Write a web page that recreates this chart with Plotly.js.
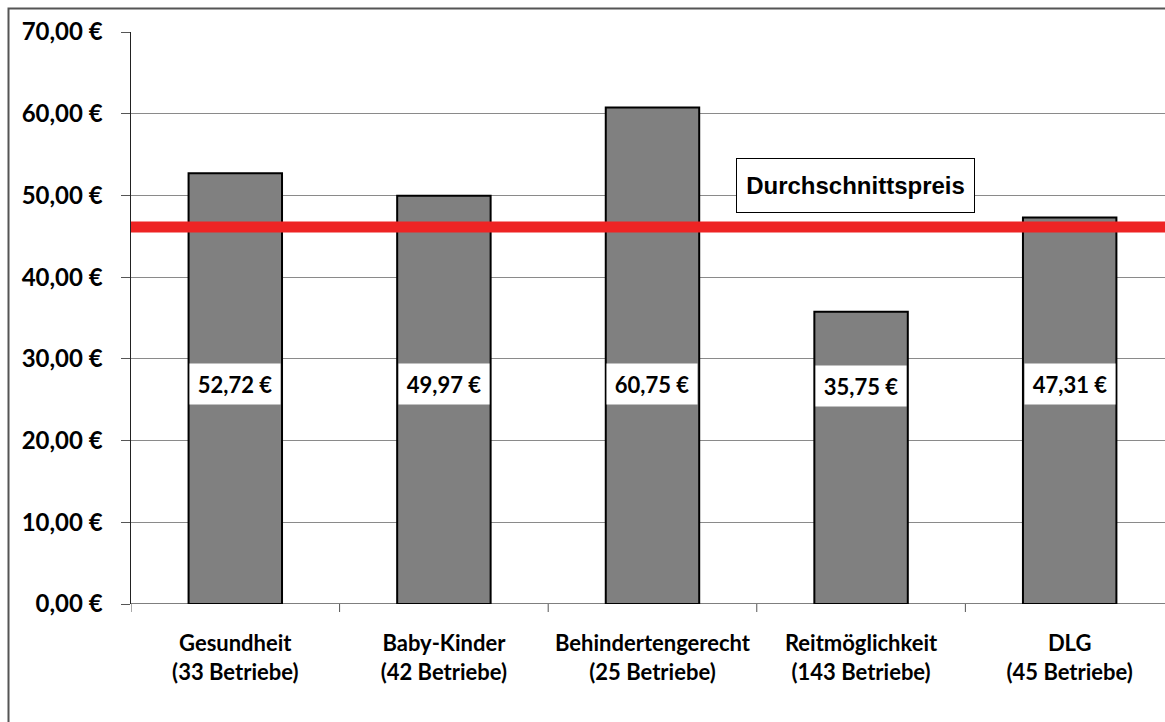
<!DOCTYPE html>
<html>
<head>
<meta charset="utf-8">
<script src="https://cdn.plot.ly/plotly-3.0.1.min.js"></script>
<style>
  html, body { margin: 0; padding: 0; background: #fff; }
  #chart { width: 1165px; height: 722px; }
</style>
</head>
<body>
<div id="chart"></div>
<script>
const categories = ['Gesundheit<br>(33 Betriebe)', 'Baby-Kinder<br>(42 Betriebe)', 'Behindertengerecht<br>(25 Betriebe)', 'Reitmöglichkeit<br>(143 Betriebe)', 'DLG<br>(45 Betriebe)'];
const prices = [52.72, 49.97, 60.75, 35.75, 47.31];
const priceLabels = ['52,72 €', '49,97 €', '60,75 €', '35,75 €', '47,31 €'];
const labelY = [26.9, 26.9, 26.9, 26.7, 26.9];
const averagePrice = 46.14;
const averageLabel = 'Durchschnittspreis';
const yTickValues = [0, 10, 20, 30, 40, 50, 60, 70];
const yTickLabels = ['0,00 €', '10,00 €', '20,00 €', '30,00 €', '40,00 €', '50,00 €', '60,00 €', '70,00 €'];

const FONT = 'Lato, "Open Sans", sans-serif';

const trace = {
  type: 'bar',
  x: categories.map((c, i) => i),
  y: prices,
  width: 0.448,
  marker: { color: '#808080', line: { color: '#000000', width: 2 } },
  hoverinfo: 'skip'
};

const annotations = prices.map((p, i) => ({
  x: i, y: labelY[i], xref: 'x', yref: 'y',
  text: '<b>' + priceLabels[i] + '</b>',
  showarrow: false,
  bgcolor: '#ffffff',
  width: 88, height: 38,
  font: { family: FONT, size: 22, color: '#000' }
}));
annotations.push({
  x: 2.973, y: 51.2, xref: 'x', yref: 'y',
  text: '<b>' + averageLabel + '</b>',
  showarrow: false,
  bgcolor: '#ffffff',
  bordercolor: '#000000', borderwidth: 1,
  width: 235, height: 51,
  font: { family: '"Liberation Sans", Arial, sans-serif', size: 24, color: '#000' }
});

const layout = {
  width: 1165, height: 722,
  margin: { l: 131, r: 0, t: 32, b: 118 },
  paper_bgcolor: '#ffffff', plot_bgcolor: '#ffffff',
  showlegend: false,
  xaxis: {
    type: 'linear',
    range: [-0.5, 4.457],
    tickmode: 'array',
    tickvals: categories.map((c, i) => i),
    ticktext: categories.map(c => '<b>' + c.replace('<br>', '</b><br><b>') + '</b>'),
    ticks: '',
    showgrid: false,
    zeroline: false,
    showline: false,
    ticklabelstandoff: 24,
    tickfont: { family: FONT, size: 22, color: '#000' }
  },
  yaxis: {
    range: [0, 70],
    tickmode: 'array',
    tickvals: yTickValues,
    ticktext: yTickLabels.map(t => '<b>' + t + '</b>'),
    ticks: 'outside', ticklen: 9, tickcolor: '#555', tickwidth: 1,
    showgrid: true, gridcolor: '#8a8a8a', gridwidth: 1,
    zeroline: false,
    showline: true, linecolor: '#222', linewidth: 1.5,
    ticklabelstandoff: 13,
    tickfont: { family: FONT, size: 24, color: '#000' }
  },
  shapes: [
    // x axis baseline
    { type: 'line', xref: 'paper', yref: 'y', x0: 0, x1: 1, y0: 0, y1: 0, line: { color: '#555', width: 1.5 }, layer: 'below' },
    // boundary ticks on x axis
    ...[-0.5, 0.5, 1.5, 2.5, 3.5].map(b => ({ type: 'line', xref: 'x', yref: 'paper', x0: b, x1: b, y0: 0, y1: -0.014, line: { color: '#555', width: 1 } })),
    // average line
    { type: 'line', xref: 'x', yref: 'y', x0: -0.515, x1: 5, y0: averagePrice, y1: averagePrice, line: { color: '#EE2424', width: 11 }, layer: 'above' },
    // outer chart border
    { type: 'rect', xref: 'paper', yref: 'paper', x0: (8.5 - 131) / 1034, x1: 1.02, y0: 1 + (32 - 8.5) / 572, y1: -0.25, line: { color: '#555', width: 2 }, fillcolor: 'rgba(0,0,0,0)', layer: 'below' }
  ],
  annotations: annotations
};

Plotly.newPlot('chart', [trace], layout, { displayModeBar: false, staticPlot: true });
</script>
</body>
</html>
